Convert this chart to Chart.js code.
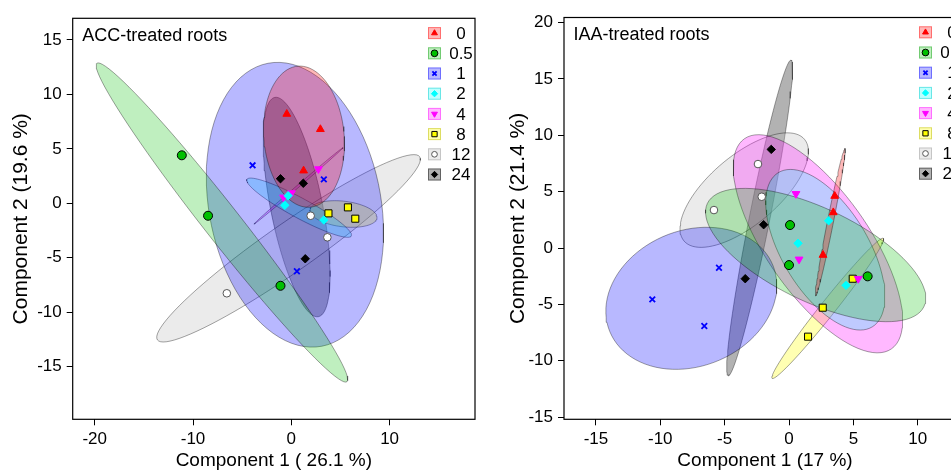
<!DOCTYPE html>
<html>
<head>
<meta charset="utf-8">
<script src="https://cdn.jsdelivr.net/npm/chart.js"></script>
<style>
  html, body { margin: 0; padding: 0; width: 951px; height: 473px; overflow: hidden; background: #fff; }
  #accChart { position: absolute; left: 0; top: 0; }
  #iaaChart { position: absolute; left: 490px; top: 0; }
</style>
</head>
<body>
<canvas id="accChart" width="490" height="473"></canvas>
<canvas id="iaaChart" width="490" height="473"></canvas>
<script>
const groups = ['0', '0.5', '1', '2', '4', '8', '12', '24'];

// ACC-treated roots: scores on component 1 / 2, one row per group
const accPC1 = [
  [-0.46, 2.96, 1.25],
  [-11.14, -8.47, -1.10],
  [-3.94, 3.31, 0.57],
  [-0.32, -0.66, 3.31],
  [2.76, -0.79, 0.02],
  [3.78, 5.76, 6.51],
  [1.97, 3.67, -6.56],
  [-1.10, 1.22, 1.42]
];
const accPC2 = [
  [8.2, 6.8, 3.0],
  [4.41, -1.14, -7.57],
  [3.49, 2.20, -6.24],
  [0.70, -0.18, -1.53],
  [3.15, 0.55, 0.95],
  [-0.92, -0.37, -1.41],
  [-1.14, -3.12, -8.26],
  [2.26, 1.84, -5.09]
];
// confidence ellipses: centre, end of major axis, end of minor axis
const accEllCentre = [[1.29, 6.12], [-7.06, -1.76], [0.37, -0.13], [0.79, -0.40], [0.73, 1.60], [5.31, -0.98], [-0.28, -4.13], [0.54, -0.34]];
const accEllMajor = [[0.99, 12.6], [-19.78, 12.86], [-2.37, 12.86], [6.10, -3.0], [5.26, 5.11], [8.72, -1.26], [13.06, 4.28], [-1.68, 9.73]];
const accEllMinor = [[5.40, 5.92], [-5.62, -0.74], [8.96, 1.35], [1.28, 0.40], [0.81, 1.52], [5.21, 0.21], [1.12, -5.94], [3.13, 0.13]];
const accXTicks = [-20, -10, 0, 10];
const accYTicks = [-15, -10, -5, 0, 5, 10, 15];

// IAA-treated roots
const iaaPC1 = [
  [3.55, 3.44, 2.64],
  [0.08, 0.0, 6.11],
  [-10.62, -6.58, -5.44],
  [3.08, 0.70, 4.43],
  [0.54, 0.78, 5.38],
  [4.95, 2.62, 1.48],
  [-2.41, -2.12, -5.83],
  [-1.38, -1.97, -3.40]
];
const iaaPC2 = [
  [4.61, 3.16, -0.62],
  [2.04, -1.51, -2.51],
  [-4.55, -6.91, -1.75],
  [2.42, 0.42, -3.31],
  [4.81, -1.0, -2.72],
  [-2.72, -5.29, -7.86],
  [7.45, 4.55, 3.37],
  [8.75, 2.07, -2.72]
];
const iaaEllCentre = [[3.21, 2.29], [2.07, -0.62], [-7.59, -4.46], [2.82, -0.15], [2.25, 0.38], [3.01, -5.35], [-3.48, 5.14], [-2.28, 2.67]];
const iaaEllMajor = [[4.35, 8.84], [10.48, -5.20], [-1.25, -1.53], [6.47, -6.99], [7.96, -8.94], [7.33, 0.86], [1.20, 9.65], [0.16, 16.67]];
const iaaEllMinor = [[3.44, 2.24], [3.64, 3.12], [-5.61, -10.04], [5.67, 1.84], [5.52, 2.98], [3.47, -5.76], [-1.75, 2.80], [-1.50, 2.48]];
const iaaXTicks = [-15, -10, -5, 0, 5, 10];
const iaaYTicks = [-15, -10, -5, 0, 5, 10, 15, 20];

const FONT = '"Liberation Sans", Arial, Helvetica, sans-serif';

const pointColors = ['#FF0000', '#00C000', '#0000FF', '#00FFFF', '#FF00FF', '#FFFF00', '#FFFFFF', '#000000'];
const pointEdges = ['#FF0000', '#000000', '#0000FF', '#00FFFF', '#FF00FF', '#000000', '#555555', '#000000'];
const fillColors = ['rgba(255,0,0,0.28)', 'rgba(0,192,0,0.25)', 'rgba(0,0,255,0.28)', 'rgba(0,255,255,0.25)',
  'rgba(255,0,255,0.28)', 'rgba(255,255,0,0.3)', 'rgba(190,190,190,0.3)', 'rgba(0,0,0,0.3)'];
const boxEdges = ['rgba(255,0,0,0.4)', 'rgba(0,150,0,0.4)', 'rgba(0,0,255,0.4)', 'rgba(0,200,200,0.45)',
  'rgba(255,0,255,0.4)', 'rgba(180,180,0,0.45)', 'rgba(150,150,150,0.45)', 'rgba(0,0,0,0.45)'];
const markers = [
  { pointStyle: 'triangle', rotation: 0, radius: 4.5, borderWidth: 1 },
  { pointStyle: 'circle', rotation: 0, radius: 4.5, borderWidth: 1 },
  { pointStyle: 'crossRot', rotation: 0, radius: 4, borderWidth: 1.8 },
  { pointStyle: 'rectRot', rotation: 0, radius: 4.2, borderWidth: 1 },
  { pointStyle: 'triangle', rotation: 180, radius: 4.5, borderWidth: 1 },
  { pointStyle: 'rect', rotation: 0, radius: 5, borderWidth: 1 },
  { pointStyle: 'circle', rotation: 0, radius: 3.8, borderWidth: 1 },
  { pointStyle: 'rectRot', rotation: 0, radius: 4.2, borderWidth: 1 }
];

// outline of an ellipse given centre and two conjugate semi-axis end points
function ellipse(c, m, n) {
  const ux = m[0] - c[0], uy = m[1] - c[1];
  const vx = n[0] - c[0], vy = n[1] - c[1];
  const pts = [];
  for (let i = 0; i <= 90; i++) {
    const t = i / 90 * 2 * Math.PI;
    pts.push({ x: c[0] + ux * Math.cos(t) + vx * Math.sin(t), y: c[1] + uy * Math.cos(t) + vy * Math.sin(t) });
  }
  return pts;
}

function buildDatasets(pc1, pc2, centre, major, minor) {
  const ds = [];
  groups.forEach((g, i) => {
    ds.push({
      label: 'ellipse ' + g,
      data: ellipse(centre[i], major[i], minor[i]),
      showLine: true,
      fill: 'shape',
      backgroundColor: fillColors[i],
      borderColor: 'rgba(0,0,0,0.45)',
      borderWidth: 0.8,
      pointRadius: 0,
      tension: 0,
      order: 2
    });
  });
  groups.forEach((g, i) => {
    ds.push({
      label: g,
      data: pc1[i].map((x, k) => ({ x, y: pc2[i][k] })),
      pointStyle: markers[i].pointStyle,
      rotation: markers[i].rotation,
      pointRadius: markers[i].radius,
      pointBorderWidth: markers[i].borderWidth,
      pointBackgroundColor: pointColors[i],
      pointBorderColor: pointEdges[i],
      showLine: false,
      order: 1
    });
  });
  return ds;
}

// frame, panel title and the legend in the top right corner
const decor = {
  id: 'decor',
  afterDatasetsDraw(chart, args, opts) {
    const { ctx, chartArea: a } = chart;
    ctx.save();
    ctx.strokeStyle = '#000';
    ctx.lineWidth = 1.2;
    ctx.strokeRect(a.left, a.top, a.right - a.left, a.bottom - a.top);

    ctx.fillStyle = '#000';
    ctx.font = '18px ' + FONT;
    ctx.textAlign = 'left';
    ctx.textBaseline = 'middle';
    ctx.fillText(opts.title, a.left + 9.5, a.top + 18);

    groups.forEach((g, i) => {
      const cy = a.top + 14.8 + i * 20.2;
      const bx = a.right - 47;
      ctx.fillStyle = '#fff';
      ctx.fillRect(bx, cy - 6, 13, 12);
      ctx.fillStyle = fillColors[i];
      ctx.fillRect(bx, cy - 6, 13, 12);
      ctx.strokeStyle = boxEdges[i];
      ctx.lineWidth = 1;
      ctx.strokeRect(bx + 0.5, cy - 5.5, 12, 11);
      ctx.fillStyle = pointColors[i];
      ctx.strokeStyle = pointEdges[i];
      ctx.lineWidth = markers[i].borderWidth;
      if (Chart.helpers && Chart.helpers.drawPoint) {
        Chart.helpers.drawPoint(ctx, {
          pointStyle: markers[i].pointStyle,
          rotation: markers[i].rotation,
          radius: markers[i].radius * 0.75,
          borderWidth: markers[i].borderWidth
        }, bx + 6.5, cy);
      }
      ctx.fillStyle = '#000';
      ctx.font = '17px ' + FONT;
      ctx.textAlign = 'center';
      ctx.fillText(g, a.right - 14, cy + 1);
    });
    ctx.restore();
  }
};

function axis(min, max, ticks, titleText, isX, size, titlePad) {
  return {
    type: 'linear',
    position: isX ? 'bottom' : 'left',
    min: min,
    max: max,
    afterBuildTicks: s => { s.ticks = ticks.map(v => ({ value: v })); },
    afterFit: s => { if (isX) s.height = size; else s.width = size; },
    grid: { drawOnChartArea: false, drawTicks: true, tickLength: 6, color: '#000', lineWidth: 1 },
    border: { display: false },
    ticks: {
      color: '#000',
      font: { family: FONT, size: 17 },
      padding: isX ? 4 : 5,
      maxRotation: 0,
      autoSkip: false,
      callback: v => String(v)
    },
    title: {
      display: true,
      text: titleText,
      color: '#000',
      font: { family: FONT, size: isX ? 19 : 21 },
      padding: isX ? { top: 0, bottom: titlePad } : { top: titlePad, bottom: 0 }
    }
  };
}

function makeChart(id, title, pc1, pc2, centre, major, minor, xr, yr, xTicks, yTicks, xTitle, yTitle, layout) {
  return new Chart(document.getElementById(id), {
    type: 'scatter',
    data: { datasets: buildDatasets(pc1, pc2, centre, major, minor) },
    options: {
      responsive: false,
      animation: false,
      events: [],
      layout: { padding: { top: layout.top, right: layout.right, left: 0, bottom: 0 } },
      plugins: {
        legend: { display: false },
        tooltip: { enabled: false },
        decor: { title: title }
      },
      scales: {
        x: axis(xr[0], xr[1], xTicks, xTitle, true, layout.xh, 1),
        y: axis(yr[0], yr[1], yTicks, yTitle, false, layout.yw, layout.ytp)
      }
    },
    plugins: [decor]
  });
}

makeChart('accChart', 'ACC-treated roots', accPC1, accPC2, accEllCentre, accEllMajor, accEllMinor,
  [-22.24, 18.69], [-19.83, 16.99], accXTicks, accYTicks,
  'Component 1 ( 26.1 %)', 'Component 2 (19.6 %)',
  { top: 18.3, right: 15, xh: 53.7, yw: 72.7, ytp: 9 });

makeChart('iaaChart', 'IAA-treated roots', iaaPC1, iaaPC2, iaaEllCentre, iaaEllMajor, iaaEllMinor,
  [-17.48, 13.75], [-15.19, 20.45], iaaXTicks, iaaYTicks,
  'Component 1 (17 %)', 'Component 2 (21.4 %)',
  { top: 17.5, right: 14, xh: 53.7, yw: 74, ytp: 15.5 });
</script>
</body>
</html>
